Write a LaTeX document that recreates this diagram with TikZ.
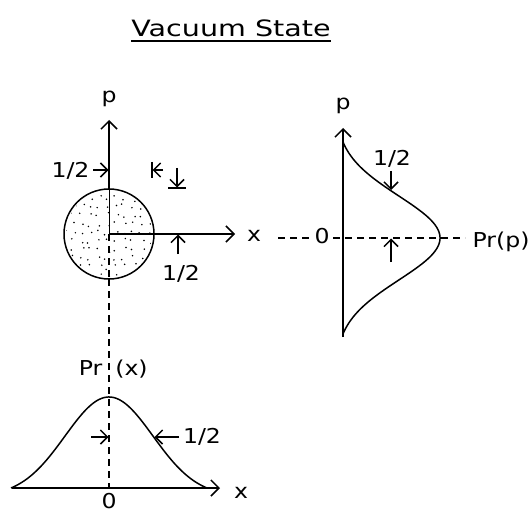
\documentclass[tikz,border=0pt]{standalone}
\usepackage{fontspec}
\setmainfont[FakeStretch=1.15]{DejaVu Sans}
\newfontfamily\titlefont[FakeStretch=1.27]{DejaVu Sans}
\usetikzlibrary{arrows.meta}
\begin{document}
\begin{tikzpicture}[x=1pt,y=-1pt,
  ln/.style={line width=1.5pt},
  ax/.style={ln,-{Straight Barb[length=8pt,width=16pt,line width=1.5pt]}},
  mk/.style={ln,-{Straight Barb[length=7pt,width=14pt,line width=1.5pt]}},
  dsh/.style={line width=1.2pt,dash pattern=on 7pt off 5pt},
  lbl/.style={font=\fontsize{20.5}{24}\selectfont, inner sep=0pt, anchor=base},
]
\useasboundingbox (0,0) rectangle (532,513);
% title
\node[inner sep=0pt, anchor=base, font=\titlefont\fontsize{22.5}{26}\selectfont] (title) at (231,37) {Vacuum State};
\draw[line width=1.6pt] ([yshift=-4pt]title.base west) -- ([yshift=-4pt]title.base east);

% ---- phase space (left top)
\coordinate (c) at (109,234);
\coordinate (ctop) at (109,189);
\coordinate (cbot) at (109,279);
\coordinate (ptip) at (109,120);
\coordinate (xtip) at (235,234);
\begin{scope}
  \clip (c) circle (43pt);
  \pgfmathsetseed{11}
  \foreach \gx in {-44,-35.5,...,44} {
    \foreach \gy in {-44,-35.5,...,44} {
      \pgfmathsetmacro\jx{\gx+6*rnd-3}
      \pgfmathsetmacro\jy{\gy+6*rnd-3}
      \fill ([shift={(\jx,\jy)}]c) circle (0.85pt);
    }
  }
\end{scope}
\draw[ln] (c) circle (45pt);
\draw[ax] (ctop) -- (ptip);
\draw[ax] (c) -- (xtip);
\draw[line width=1pt] (c) -- (ctop);
\draw[dsh] (c) -- (cbot);
\node[lbl] (pl) at (109,103) {p};
\node[lbl] (xl) at (254,241) {x};
\node[lbl] (h1) at (70.5,178) {1/2};
\coordinate (h1a) at (93,170);
\coordinate (h1b) at (108.5,170);
\draw[mk] (h1a) -- (h1b);
% diagonal markers
\coordinate (d1a) at (152,162); \coordinate (d1b) at (152,178);
\coordinate (d1s) at (163,170); \coordinate (d1t) at (152.5,170);
\draw[ln] (d1a) -- (d1b);
\draw[mk] (d1s) -- (d1t);
\coordinate (d2s) at (177,168); \coordinate (d2t) at (177,187.5);
\coordinate (d2a) at (168,188); \coordinate (d2b) at (186,188);
\draw[mk] (d2s) -- (d2t);
\draw[ln] (d2a) -- (d2b);
% marker under x axis
\coordinate (h2a) at (178,254); \coordinate (h2b) at (178,234.5);
\draw[mk] (h2a) -- (h2b);
\node[lbl] (h2) at (181,280) {1/2};

% ---- Pr(x) (bottom)
\coordinate (b0) at (109,488);
\coordinate (bl) at (12,488);
\coordinate (br) at (220,488);
\draw[dsh] (cbot) -- (b0);
\draw[ax] (bl) -- (br);
\draw[ln] plot[domain=-98:98, samples=140, smooth] ({109+\x}, {488-91*(exp(-\x*\x/3872)-0.0837)/(1-0.0837)});
\node[lbl] (bx) at (241,498) {x};
\node[lbl] (b0l) at (109,508) {0};
\node[lbl] (prx1) at (90.5,375) {Pr};
\node[lbl] (prx2) at (131.5,375) {(x)};
\coordinate (m1a) at (91,437); \coordinate (m1b) at (108.5,437);
\draw[mk] (m1a) -- (m1b);
\coordinate (m2a) at (179,437); \coordinate (m2b) at (154.5,437);
\draw[mk] (m2a) -- (m2b);
\node[lbl] (h3) at (202,443) {1/2};

% ---- Pr(p) (right)
\coordinate (rb) at (343,337);
\coordinate (rt) at (343,128);
\draw[ax] (rb) -- (rt);
\draw[ln] plot[domain=-96:96, samples=140, smooth] ({343+97*(exp(-\x*\x/3528)-0.0734)/(1-0.0734)}, {238+\x});
\coordinate (dl1) at (278,238); \coordinate (dl2) at (312,238);
\coordinate (dr1) at (333,238); \coordinate (dr2) at (465,238);
\draw[dsh] (dl1) -- (dl2);
\draw[dsh] (dr1) -- (dr2);
\node[lbl] (pr) at (343,110) {p};
\node[lbl] (r0) at (322,243) {0};
\node[lbl] (prp) at (501,247) {Pr(p)};
\node[lbl] (h4) at (392,165) {1/2};
\coordinate (m3a) at (391,171); \coordinate (m3b) at (391,190);
\draw[mk] (m3a) -- (m3b);
\coordinate (m4a) at (391,262); \coordinate (m4b) at (391,238.5);
\draw[mk] (m4a) -- (m4b);
\end{tikzpicture}
\end{document}
